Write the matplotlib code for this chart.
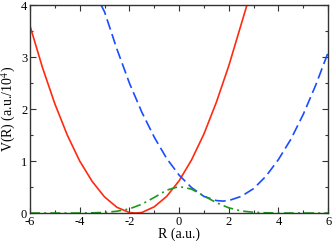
import matplotlib
matplotlib.use("Agg")
import matplotlib.pyplot as plt
from matplotlib.ticker import MultipleLocator

# Data
x_red = [-6, -5.5, -5, -4.5, -4, -3.5, -3, -2.5, -2, -1.75, -1.5, -1, -0.5, 0, 0.5, 1, 1.5, 2, 2.5, 2.75]
v_red = [3.60, 2.80, 2.10, 1.50, 1.00, 0.61, 0.31, 0.11, 0.01, 0.00, 0.01, 0.12, 0.32, 0.62, 1.02, 1.52, 2.13, 2.83, 3.63, 4.03]

x_blue = [-3.14, -3, -2.5, -2, -1.5, -1, -0.5, 0, 0.5, 1, 1.5, 1.77, 2, 2.5, 3, 3.5, 4, 4.5, 5, 5.5, 6]
v_blue = [4.00, 3.87, 3.15, 2.50, 1.94, 1.46, 1.05, 0.73, 0.49, 0.32, 0.24, 0.23, 0.24, 0.32, 0.47, 0.71, 1.03, 1.42, 1.90, 2.46, 3.09]

x_green = [-6, -4, -3.5, -3, -2.5, -2, -1.5, -1, -0.5, 0, 0.5, 1, 1.5, 2, 2.5, 3, 3.5, 4, 6]
v_green = [0.0, 0.0, 0.004, 0.012, 0.035, 0.08, 0.17, 0.30, 0.44, 0.51, 0.46, 0.33, 0.20, 0.10, 0.04, 0.015, 0.005, 0.0, 0.0]

plt.rcParams['font.family'] = ['Liberation Serif', 'DejaVu Serif']
plt.rcParams['mathtext.fontset'] = 'stix'
plt.rcParams['axes.unicode_minus'] = False

fig = plt.figure(figsize=(3.32, 2.41), dpi=100)
ax = fig.add_axes([0.0904, 0.116, 0.898, 0.863])

ax.plot(x_red, v_red, color='#ff2a10', lw=1.2, solid_capstyle='butt')
ax.plot(x_blue, v_blue, color='#1a4cff', lw=1.2, dashes=(6.5, 2.8))
ax.plot(x_green, v_green, color='#1a9a1a', lw=1.2, dashes=(6, 2.5, 1.2, 2.5))

ax.set_xlim(-6, 6)
ax.set_ylim(0, 4)
ax.xaxis.set_major_locator(MultipleLocator(2))
ax.xaxis.set_minor_locator(MultipleLocator(1))
ax.yaxis.set_major_locator(MultipleLocator(1))
ax.yaxis.set_minor_locator(MultipleLocator(0.5))
ax.tick_params(which='both', direction='in', top=True, right=True, labelsize=9, width=0.8, colors='#333333', labelcolor='black')
ax.tick_params(which='major', length=4, pad=2)
ax.tick_params(which='minor', length=2)
for s in ax.spines.values():
    s.set_linewidth(1.0)
    s.set_color('#333333')

ax.set_xlabel('R (a.u.)', fontsize=10, labelpad=0)
ax.set_ylabel('V(R) (a.u./10$^4$)', fontsize=10, labelpad=2)

fig.savefig('out.png', dpi=100)
